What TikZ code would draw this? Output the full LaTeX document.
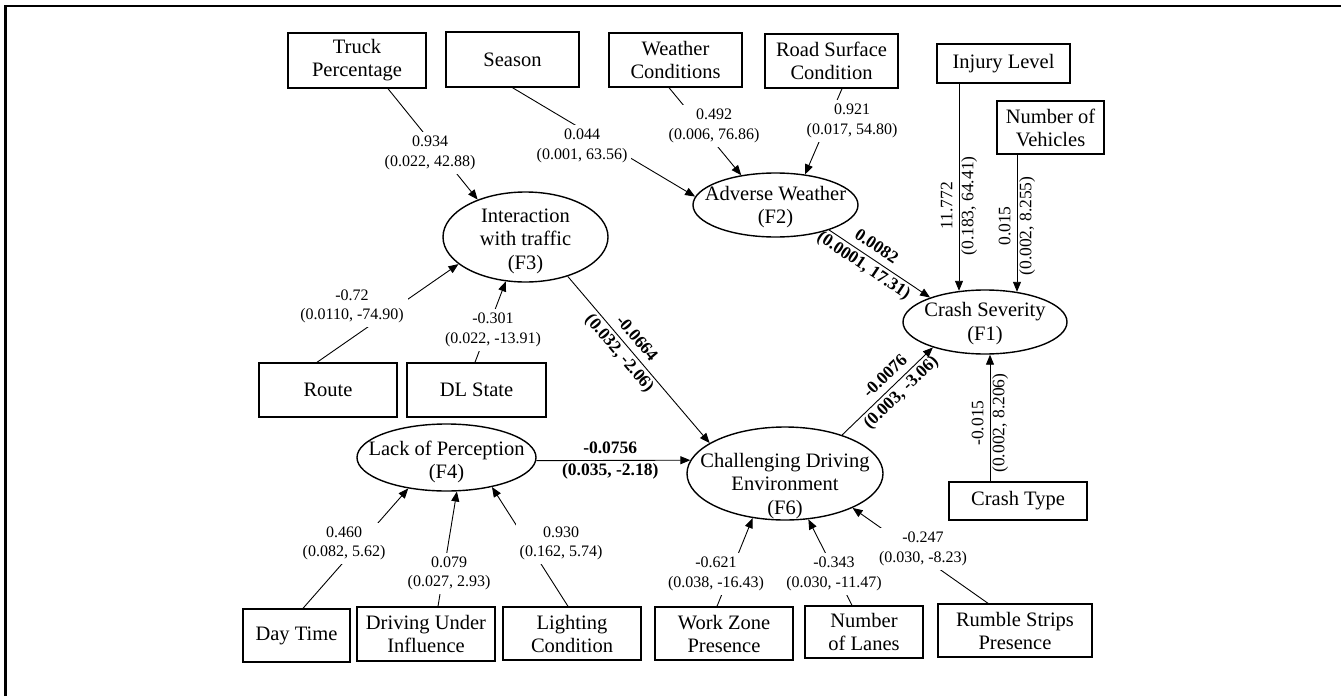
\documentclass[tikz,border=0pt]{standalone}
\usepackage{fontspec}
\setmainfont{Liberation Serif}
\usetikzlibrary{arrows.meta,shapes.geometric,calc}
\begin{document}
\begin{tikzpicture}[x=1pt,y=-1pt,
  box/.style={draw, line width=1.4pt, align=center, inner sep=2pt, font=\fontsize{20.5}{23}\selectfont},
  lat/.style={draw, ellipse, line width=1.4pt, inner sep=0pt},
  lt/.style={align=center, inner sep=0pt, font=\fontsize{20.5}{23.5}\selectfont},
  arr/.style={line width=0.9pt, -{Triangle[length=10pt,width=8pt]}},
  lab/.style={fill=white, align=center, inner sep=4pt, font=\fontsize{16}{19.5}\selectfont},
  blab/.style={align=center, inner sep=1pt, font=\bfseries\fontsize{17.5}{22.5}\selectfont},
  vlab/.style={align=center, inner sep=1pt, rotate=90, font=\fontsize{17.5}{21}\selectfont},
]
\useasboundingbox (0,0) rectangle (1341,696);
\draw[line width=2.2pt] (5.5,696) -- (5.5,6) -- (1341,6);

% observed variables
\node[box, minimum width=138pt, minimum height=55pt] (tp) at (357,60.5) {Truck\\Percentage};
\node[box, minimum width=133pt, minimum height=55pt] (season) at (512.5,59.5) {Season};
\node[box, minimum width=133pt, minimum height=54pt] (wc) at (675.5,60) {Weather\\Conditions};
\node[box, minimum width=133pt, minimum height=54pt] (rs) at (831.5,61) {Road Surface\\Condition};
\node[box, minimum width=133pt, minimum height=39pt] (il) at (1003.5,63.5) {Injury Level};
\node[box, minimum width=107pt, minimum height=53pt] (nv) at (1050.5,127.5) {Number of\\Vehicles};
\node[box, minimum width=138pt, minimum height=54pt] (route) at (328,390) {Route};
\node[box, minimum width=139pt, minimum height=54pt] (dl) at (476.5,390) {DL State};
\node[box, minimum width=138pt, minimum height=38pt] (ct) at (1018,501) {Crash Type};
\node[box, minimum width=107pt, minimum height=53pt] (dt) at (296.5,635.5) {Day Time};
\node[box, minimum width=138pt, minimum height=54pt] (dui) at (426,634) {Driving Under\\Influence};
\node[box, minimum width=138pt, minimum height=53pt] (lc) at (572,633.5) {Lighting\\Condition};
\node[box, minimum width=138pt, minimum height=53pt] (wz) at (724,633.5) {Work Zone\\Presence};
\node[box, minimum width=118pt, minimum height=52pt] (nl) at (864,632) {Number\\of Lanes};
\node[box, minimum width=154pt, minimum height=53pt] (rsp) at (1015,630.5) {Rumble Strips\\Presence};

% latent variables
\node[lat, minimum width=165pt, minimum height=90pt] (f3) at (525.5,237) {};
\node[lt] (f3t) at (525.5,241) {Interaction\\with traffic\\(F3)};
\node[lat, minimum width=165pt, minimum height=64pt] (f2) at (775.5,205) {};
\node[lt] (f2t) at (775.5,207) {Adverse Weather\\(F2)};
\node[lat, minimum width=164pt, minimum height=64pt] (f1) at (985,322) {};
\node[lt] (f1t) at (985,323.5) {Crash Severity\\(F1)};
\node[lat, minimum width=196pt, minimum height=93pt] (f6) at (785,473.5) {};
\node[lt] (f6t) at (785,486) {Challenging Driving\\Environment\\(F6)};
\node[lat, minimum width=179pt, minimum height=67pt] (f4) at (446.5,457.5) {};
\node[lt] (f4t) at (446.5,462) {Lack of Perception\\(F4)};

% indicator connectors
\draw[arr] ($(tp.south)+(31,0)$) -- (f3.142);
\draw[arr] (season.south) -- (f2.174);
\draw[arr] ($(wc.south)+(-6.5,0)$) -- (f2.139);
\draw[arr] ($(rs.south)+(10.5,0)$) -- (f2.46);
\draw[arr] ($(route.north)+(-11,0)$) -- (f3.202);
\draw[arr] ($(dl.north)+(-1.5,0)$) -- (f3.246);
\draw[arr] ($(dt.north)+(6.5,0)$) -- (f4.219);
\draw[arr] ($(dui.north)+(12,0)$) -- (f4.287);
\draw[arr] ($(lc.north)+(-4,0)$) -- (f4.327);
\draw[arr] ($(wz.north)+(-7,0)$) -- (f6.234);
\draw[arr] ($(nl.north)+(-12,0)$) -- (f6.297);
\draw[arr] ($(rsp.north)+(-27,0)$) -- (f6.333);

% indicator labels
\node[lab] (l1) at (430,153) {0.934\\(0.022, 42.88)};
\node[lab] (l2) at (582,146) {0.044\\(0.001, 63.56)};
\node[lab] (l3) at (714,126) {0.492\\(0.006, 76.86)};
\node[lab] (l4) at (852,121) {0.921\\(0.017, 54.80)};
\node[lab] (l5) at (352,306.5) {-0.72\\(0.0110, -74.90)};
\node[lab] (l6) at (493,330) {-0.301\\(0.022, -13.91)};
\node[lab] (l7) at (344,543.5) {0.460\\(0.082, 5.62)};
\node[lab] (l8) at (449,573.5) {0.079\\(0.027, 2.93)};
\node[lab] (l9) at (561,543.5) {0.930\\(0.162, 5.74)};
\node[lab] (l10) at (716,574) {-0.621\\(0.038, -16.43)};
\node[lab] (l11) at (834,574) {-0.343\\(0.030, -11.47)};
\node[lab] (l12) at (923,549) {-0.247\\(0.030, -8.23)};

% structural connectors
\draw[arr] (f2.-25) -- node[blab, sloped, pos=0.40] (e21) {0.0082\\(0.0001, 17.31)} (f1.156);
\draw[arr] (f3.-43) -- node[blab, sloped, pos=0.42] (e36) {-0.0664\\(0.032, -2.06)} (f6.158);
\draw[arr] (f4.-2) -- node[blab, pos=0.48] (e46) {-0.0756\\(0.035, -2.18)} (f6.172);
\draw[arr] (f6.34) -- node[blab, sloped, pos=0.57] (e61) {-0.0076\\(0.003, -3.06)} (f1.206);

% direct indicators of crash severity
\draw[arr] ($(il.south)+(-44.5,0)$) -- node[vlab, pos=0.59] (eil) {11.772\\(0.183, 64.41)} ($(f1.north)+(-26,1.5)$);
\draw[arr] ($(nv.south)+(-33.5,0)$) -- node[vlab, pos=0.52] (env) {0.015\\(0.002, 8.255)} ($(f1.north)+(32,2.5)$);
\draw[arr] ($(ct.north)+(-28,0)$) -- node[vlab, pos=0.46] (ect) {-0.015\\(0.002, 8.206)} ($(f1.south)+(5,0)$);
\end{tikzpicture}
\end{document}
